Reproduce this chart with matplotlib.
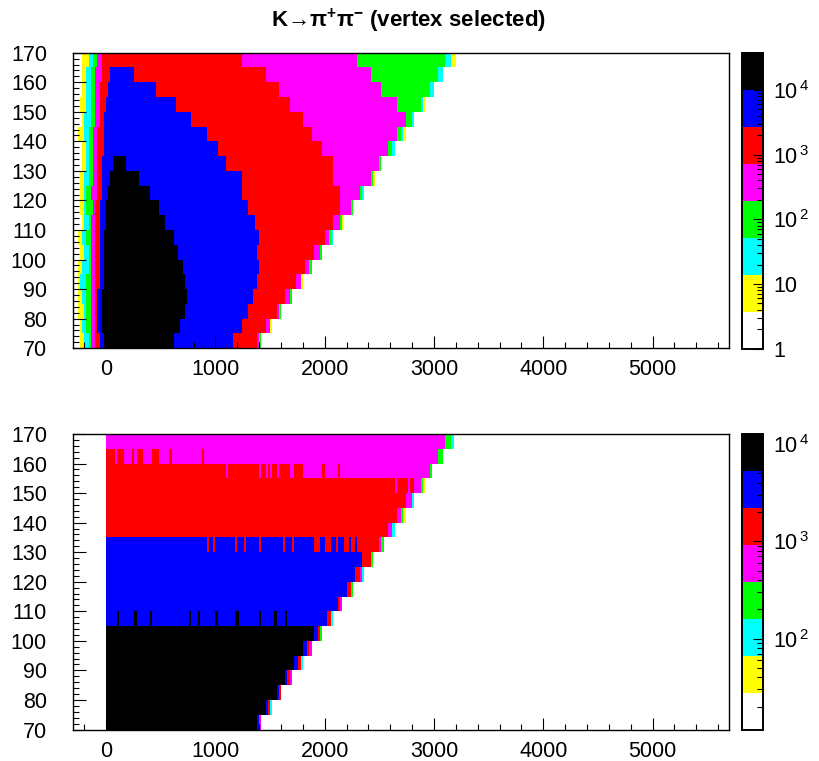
import numpy as np
import matplotlib
matplotlib.use("Agg")
import matplotlib.pyplot as plt
from matplotlib.colors import ListedColormap, LogNorm
from matplotlib.ticker import MultipleLocator, LogLocator, FuncFormatter, NullFormatter

plt.rcParams['font.family'] = ['Liberation Sans', 'DejaVu Sans']
plt.rcParams['mathtext.fontset'] = 'custom'
plt.rcParams['mathtext.rm'] = 'Liberation Sans'
plt.rcParams['mathtext.it'] = 'Liberation Sans:italic'
plt.rcParams['mathtext.bf'] = 'Liberation Sans:bold'

# ROOT palette, lowest level first
palette = ['white', '#ffff00', '#00ffff', '#00ff00', '#ff00ff', '#ff0000', '#0000ff', 'black']

x_min, x_max, x_step = -300, 5700, 20
y_rows = np.arange(70, 170, 5)   # lower edge of each y bin
nan = np.nan

# ---- upper histogram: x range (per y row) where content reaches each colour level
top_yellow_lo = [-240, -230, -255, -255, -265, -265, -240, -255, -220, -230, -240, -245, -220, -220, -255, -220, -240, -220, -220, -220]
top_yellow_hi = [1425, 1525, 1600, 1700, 1800, 1885, 1975, 2075, 2185, 2260, 2365, 2460, 2530, 2640, 2740, 2815, 2925, 3000, 3090, 3200]
top_cyan_lo = [-190, -220, -190, -220, -230, -220, -190, -220, -200, -190, -190, -190, -185, -185, -190, -190, -185, -175, -175, -155]
top_cyan_hi = [1425, 1500, 1600, 1700, 1780, 1885, 1975, 2075, 2155, 2260, 2365, 2440, 2530, 2640, 2715, 2815, 2895, 3000, 3080, 3160]
top_green_lo = [-155, -175, -175, -175, -175, -165, -165, -175, -165, -175, -175, -155, -155, -155, -155, -135, -130, -135, -135, -120]
top_green_hi = [1425, 1500, 1600, 1700, 1780, 1885, 1975, 2065, 2155, 2260, 2340, 2440, 2515, 2625, 2695, 2795, 2880, 2960, 3045, 3100]
top_magenta_lo = [-130, -135, -135, -130, -135, -130, -135, -135, -135, -120, -130, -120, -120, -120, -120, -90, -90, -90, -90, -75]
top_magenta_hi = [1400, 1500, 1580, 1680, 1780, 1865, 1965, 2040, 2140, 2250, 2320, 2420, 2505, 2575, 2660, 2740, 2660, 2530, 2420, 2305]
top_red_lo = [-100] * 10 + [-75] * 5 + [-55] * 3 + [-35] * 2
top_red_hi = [1380, 1460, 1565, 1645, 1745, 1820, 1900, 2000, 2075, 2140, 2140, 2075, 2075, 1985, 1890, 1800, 1680, 1580, 1460, 1245]
top_blue_lo = [-55, -75, -75, -75, -55, -55, -55, -55, -55, -55, -35, -35, -35, -25, -20, -20, 0, 20, 45, nan]
top_blue_hi = [1160, 1245, 1300, 1345, 1380, 1410, 1390, 1410, 1360, 1305, 1245, 1245, 1105, 1025, 925, 785, 640, 465, 265, nan]
top_black_lo = [-10, -35, -35, -35, -25, -20, -20, -10, 0, 0, 25, 35, 65] + [nan] * 7
top_black_hi = [620, 685, 720, 740, 720, 705, 665, 620, 550, 485, 410, 300, 185] + [nan] * 7
top_zrange = (1.0, 3.77e4)

# ---- lower histogram: every row starts at x = 0
bot_yellow_hi = [1415, 1525, 1595, 1695, 1800, 1880, 1975, 2080, 2155, 2255, 2365, 2435, 2535, 2640, 2735, 2825, 2915, 2990, 3090, 3175]
bot_cyan_hi = [1415, 1525, 1595, 1695, 1800, 1880, 1975, 2080, 2155, 2255, 2365, 2435, 2535, 2640, 2715, 2825, 2895, 2990, 3075, 3175]
bot_green_hi = [1415, 1500, 1595, 1695, 1780, 1880, 1975, 2065, 2155, 2255, 2345, 2435, 2535, 2620, 2715, 2805, 2895, 2980, 3075, 3160]
bot_magenta_hi = [1415, 1500, 1595, 1695, 1780, 1880, 1955, 2065, 2155, 2245, 2345, 2420, 2520, 2620, 2695, 2805, 2880, 2960, 3045, 3100]
bot_red_hi = [1400, 1500, 1595, 1675, 1780, 1860, 1955, 2065, 2140, 2245, 2320, 2420, 2505, 2575, 2655, 2740, 2825, 1800, nan, nan]
bot_blue_hi = [1400, 1485, 1585, 1660, 1765, 1835, 1940, 2015, 2120, 2200, 2280, 2350, 2300] + [nan] * 7
bot_black_hi = [1375, 1460, 1565, 1645, 1720, 1800, 1895] + [nan] * 13
# single bins sitting one colour level above (+1) or below (-1) their row
bot_spike_row = [160] * 7 + [155] * 8 + [150] * 2 + [130] * 12 + [105] * 10
bot_spike_lo = [0, 100, 245, 285, 420, 580, 875,
                1100, 1400, 1460, 1500, 1560, 1680, 1985, 2120,
                2640, 2760,
                920, 975, 1180, 1260, 1400, 1615, 1700, 1900, 2000, 2100, 2185, 2240,
                100, 265, 400, 760, 835, 1005, 1180, 1405, 1545, 1645]
bot_spike_hi = [80, 160, 270, 340, 485, 600, 905,
                1120, 1425, 1480, 1520, 1580, 1720, 2005, 2150,
                2665, 2780,
                940, 995, 1200, 1280, 1420, 1635, 1720, 1960, 2060, 2120, 2220, 2275,
                125, 285, 420, 780, 855, 1025, 1225, 1425, 1565, 1660]
bot_spike_step = [1] * 7 + [-1] * 6 + [1] * 2 + [-1] * 2 + [-1] * 12 + [1] * 10
bot_zrange = (11.5, 1.267e4)

x_edges = np.arange(x_min, x_max + x_step, x_step)
x_mid = 0.5 * (x_edges[:-1] + x_edges[1:])
y_edges = np.append(y_rows, 170)


def level_map(lows, highs):
    lev = np.zeros((len(y_rows), len(x_mid)), dtype=int)
    for level, (lo, hi) in enumerate(zip(lows, highs), start=1):
        for r in range(len(y_rows)):
            if np.isnan(lo[r]) or np.isnan(hi[r]):
                continue
            sel = (x_mid >= lo[r]) & (x_mid < hi[r])
            lev[r, sel] = np.maximum(lev[r, sel], level)
    return lev


def to_counts(lev, zrange):
    lmin, lmax = np.log10(zrange[0]), np.log10(zrange[1])
    band = (lmax - lmin) / len(palette)
    z = 10 ** (lmin + (lev + 0.5) * band)
    return np.ma.masked_where(lev == 0, z)


top_lev = level_map(
    [top_yellow_lo, top_cyan_lo, top_green_lo, top_magenta_lo, top_red_lo, top_blue_lo, top_black_lo],
    [top_yellow_hi, top_cyan_hi, top_green_hi, top_magenta_hi, top_red_hi, top_blue_hi, top_black_hi])

zeros = [0] * len(y_rows)
bot_lev = level_map(
    [zeros] * 7,
    [bot_yellow_hi, bot_cyan_hi, bot_green_hi, bot_magenta_hi, bot_red_hi, bot_blue_hi, bot_black_hi])
for yr, lo, hi, st in zip(bot_spike_row, bot_spike_lo, bot_spike_hi, bot_spike_step):
    r = list(y_rows).index(yr)
    sel = (x_mid >= lo) & (x_mid < hi) & (bot_lev[r] > 0)
    bot_lev[r, sel] = np.clip(bot_lev[r, sel] + st, 1, 7)

cmap = ListedColormap(palette)
W, H = 820, 761
fig = plt.figure(figsize=(W / 100, H / 100), dpi=100)
label_size = 15.5


def decade_label(v, pos):
    e = int(round(np.log10(v)))
    if e == 0:
        return '1'
    if e == 1:
        return '10'
    return r'$10^{\,%d}$' % e


def draw_panel(top_px, lev, zrange):
    ax = fig.add_axes([73.3 / W, (H - top_px - 295.5) / H, 655.7 / W, 295.5 / H])
    mesh = ax.pcolormesh(x_edges, y_edges, to_counts(lev, zrange), cmap=cmap,
                         norm=LogNorm(vmin=zrange[0], vmax=zrange[1]))
    ax.set_xlim(x_min, x_max)
    ax.set_ylim(70, 170)
    ax.xaxis.set_major_locator(MultipleLocator(1000))
    ax.xaxis.set_minor_locator(MultipleLocator(200))
    ax.yaxis.set_major_locator(MultipleLocator(10))
    ax.yaxis.set_minor_locator(MultipleLocator(2))
    ax.tick_params(which='both', direction='in', top=False, right=False,
                   labelsize=label_size, width=0.8, color='black')
    ax.tick_params(which='major', length=9)
    ax.tick_params(which='minor', length=4.3)
    ax.tick_params(axis='y', pad=19)
    ax.tick_params(axis='x', pad=8)
    for s in ax.spines.values():
        s.set_linewidth(1.0)

    cax = fig.add_axes([741.7 / W, (H - top_px - 296) / H, 21.6 / W, 296 / H])
    cb = fig.colorbar(mesh, cax=cax)
    cb.outline.set_linewidth(1.4)
    cax.yaxis.set_major_locator(LogLocator(base=10))
    cax.yaxis.set_minor_locator(LogLocator(base=10, subs=np.arange(2, 10)))
    cax.yaxis.set_major_formatter(FuncFormatter(decade_label))
    cax.yaxis.set_minor_formatter(NullFormatter())
    cax.tick_params(which='both', direction='in', right=True, left=False,
                    labelsize=label_size, width=0.8, pad=7)
    cax.tick_params(which='major', length=7)
    cax.tick_params(which='minor', length=4.3)
    return ax


draw_panel(52.7, top_lev, top_zrange)
draw_panel(434.0, bot_lev, bot_zrange)

fig.text(408 / W, 1 - 27.3 / H, 'K\u2192\u03c0$^{\\mathbf{+}}$\u03c0$^{\\mathbf{-}}$ (vertex selected)',
         ha='center', va='baseline', fontsize=16, fontweight='bold')

fig.savefig('out.png', dpi=100)
